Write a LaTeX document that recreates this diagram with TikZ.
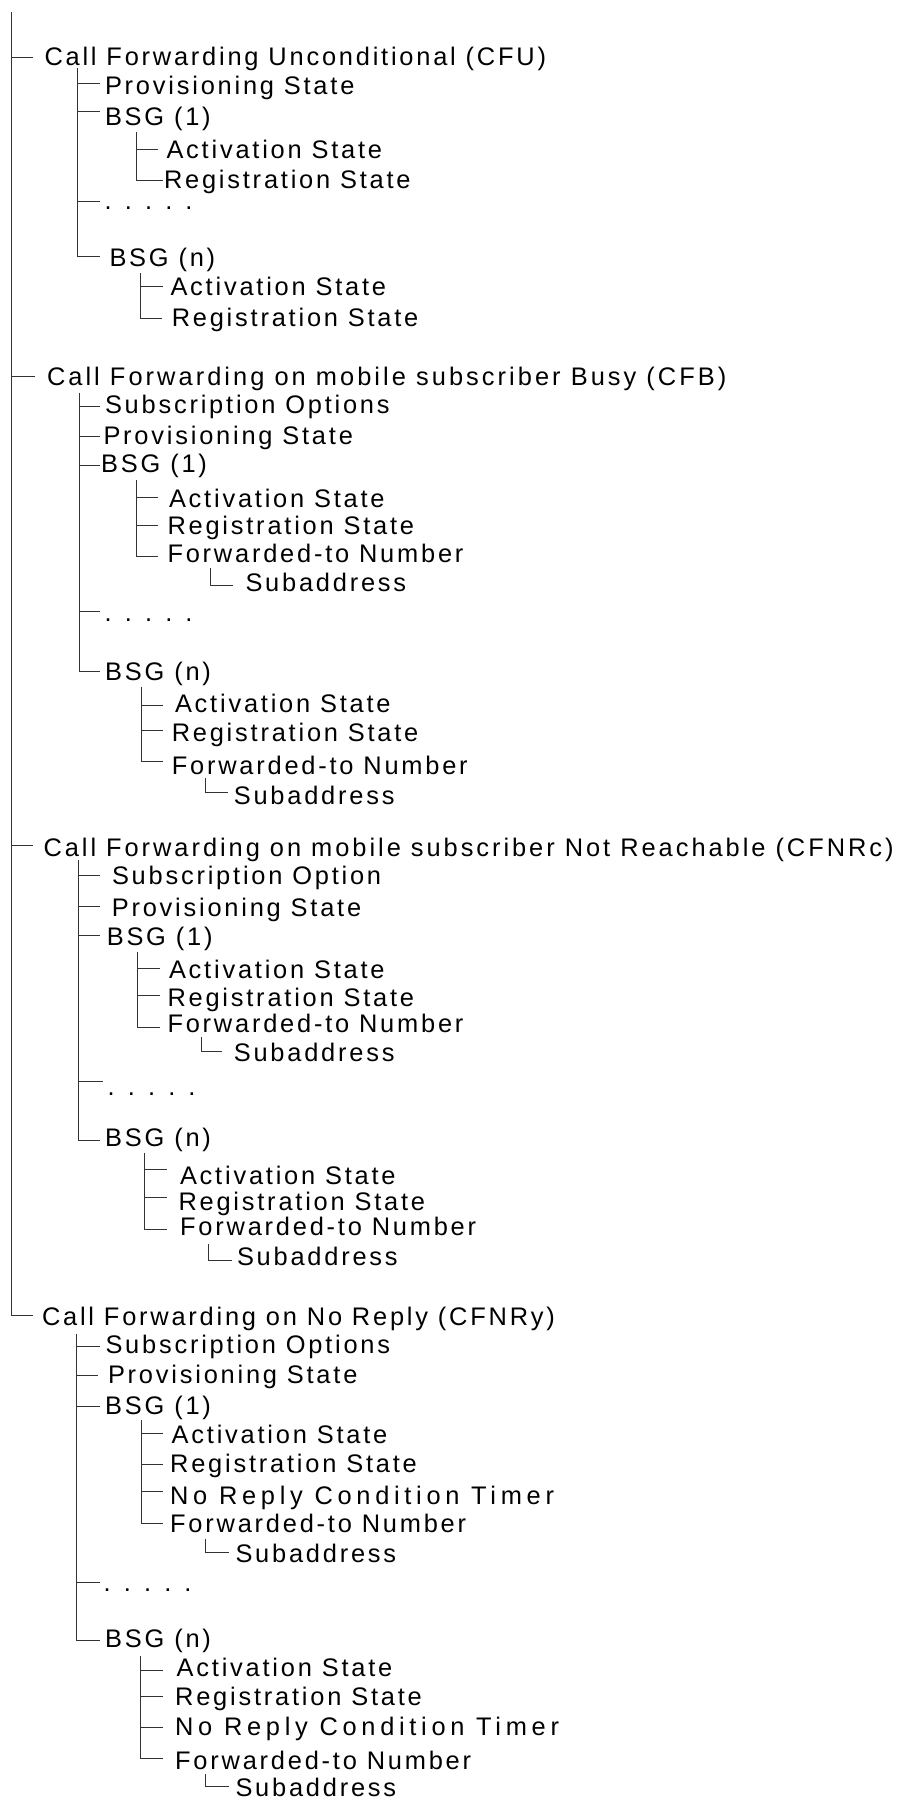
\documentclass[tikz,border=0pt]{standalone}
\usepackage{fontspec}
\setmainfont{Liberation Sans}[LetterSpace=11]
\newcommand\lblfont{\fontsize{12.7}{15}\selectfont}
\tikzset{
  lbl/.style={anchor=base west, inner sep=0pt, outer sep=0pt, font=\lblfont, text=black},
  lblwide/.style={lbl, font=\lblfont\addfontfeature{LetterSpace=12}},
  lblwidec/.style={lbl, font=\lblfont\addfontfeature{LetterSpace=11.7}},
  lblwider/.style={lbl, font=\lblfont\addfontfeature{LetterSpace=18.5}},
  conn/.style={draw=black!80, line width=0.5pt},
}
\begin{document}
\begin{tikzpicture}[x=0.5pt, y=-0.5pt]
\useasboundingbox (0,0) rectangle (896,1800);

% ---------- main spine ----------
\coordinate (m) at (11,11.7);
\coordinate (tCFU) at (33.3,57.3);
\coordinate (tCFB) at (35,376.7);
\coordinate (tCFNRc) at (33.3,845);
\coordinate (tCFNRy) at (33.3,1315);
\node[lbl] (nCFU) at (44.5,65) {Call Forwarding Unconditional (CFU)};
\node[lblwide] (nCFB) at (47,385) {Call Forwarding on mobile subscriber Busy (CFB)};
\node[lblwidec] (nCFNRc) at (43.5,856.7) {Call Forwarding on mobile subscriber Not Reachable (CFNRc)};
\node[lbl] (nCFNRy) at (42,1325) {Call Forwarding on No Reply (CFNRy)};
\draw[conn] (m) |- (tCFNRy);
\draw[conn] (m |- tCFU) -- (tCFU);
\draw[conn] (m |- tCFB) -- (tCFB);
\draw[conn] (m |- tCFNRc) -- (tCFNRc);

% ---------- CFU ----------
\coordinate (a) at (77.7,68);
\coordinate (tA1) at (100,83.3);
\coordinate (tA2) at (100,111.7);
\coordinate (tA3) at (100,201);
\coordinate (tA4) at (100,256.7);
\node[lbl] (nA1) at (105,94) {Provisioning State};
\node[lbl] (nA2) at (105,125) {BSG (1)};
\node[lbl] (nA3) at (104.7,209.5) {. . . . .};
\node[lbl] (nA4) at (109.5,266.7) {BSG (n)};
\draw[conn] (a) |- (tA4);
\draw[conn] (a |- tA1) -- (tA1);
\draw[conn] (a |- tA2) -- (tA2);
\draw[conn] (a |- tA3) -- (tA3);
% BSG(1)
\coordinate (a2v) at (136,131.7);
\coordinate (tA21) at (158,149);
\coordinate (tA22) at (163,180);
\node[lbl] (nA21) at (166.5,158.3) {Activation State};
\node[lbl] (nA22) at (164,188.3) {Registration State};
\draw[conn] (a2v) |- (tA22);
\draw[conn] (a2v |- tA21) -- (tA21);
% BSG(n)
\coordinate (a4v) at (140,273);
\coordinate (tA41) at (163,286.7);
\coordinate (tA42) at (161.7,318.3);
\node[lbl] (nA41) at (170.5,295) {Activation State};
\node[lbl] (nA42) at (171.8,326.7) {Registration State};
\draw[conn] (a4v) |- (tA42);
\draw[conn] (a4v |- tA41) -- (tA41);

% ---------- CFB ----------
\coordinate (b) at (79,392.7);
\coordinate (tB1) at (100,406);
\coordinate (tB2) at (100,436.7);
\coordinate (tB3) at (100,465);
\coordinate (tB4) at (100,611.7);
\coordinate (tB5) at (100,671.7);
\node[lbl] (nB1) at (105,413.3) {Subscription Options};
\node[lbl] (nB2) at (103.5,444.3) {Provisioning State};
\node[lbl] (nB3) at (101.2,472.7) {BSG (1)};
\node[lbl] (nB4) at (104.7,621.5) {. . . . .};
\node[lbl] (nB5) at (105.2,680) {BSG (n)};
\draw[conn] (b) |- (tB5);
\draw[conn] (b |- tB1) -- (tB1);
\draw[conn] (b |- tB2) -- (tB2);
\draw[conn] (b |- tB3) -- (tB3);
\draw[conn] (b |- tB4) -- (tB4);
% BSG(1)
\coordinate (b3v) at (136.7,480);
\coordinate (tB31) at (158.3,497.7);
\coordinate (tB32) at (158,525);
\coordinate (tB33) at (158.3,556.7);
\node[lbl] (nB31) at (169,507.3) {Activation State};
\node[lbl] (nB32) at (167.5,534.3) {Registration State};
\node[lbl] (nB33) at (167.5,562.7) {Forwarded-to Number};
\draw[conn] (b3v) |- (tB33);
\draw[conn] (b3v |- tB31) -- (tB31);
\draw[conn] (b3v |- tB32) -- (tB32);
\coordinate (b33v) at (210,568.3);
\coordinate (tB331) at (233.3,585);
\node[lbl] (nB331) at (245.5,591.7) {Subaddress};
\draw[conn] (b33v) |- (tB331);
% BSG(n)
\coordinate (b5v) at (141,686.7);
\coordinate (tB51) at (163.3,705);
\coordinate (tB52) at (163.3,730);
\coordinate (tB53) at (163.3,761.7);
\node[lbl] (nB51) at (175,712.7) {Activation State};
\node[lbl] (nB52) at (171.8,741) {Registration State};
\node[lbl] (nB53) at (171.8,774.3) {Forwarded-to Number};
\draw[conn] (b5v) |- (tB53);
\draw[conn] (b5v |- tB51) -- (tB51);
\draw[conn] (b5v |- tB52) -- (tB52);
\coordinate (b53v) at (205,778.3);
\coordinate (tB531) at (228.3,792.7);
\node[lbl] (nB531) at (233.8,804.3) {Subaddress};
\draw[conn] (b53v) |- (tB531);

% ---------- CFNRc ----------
\coordinate (c) at (78.3,860);
\coordinate (tC1) at (100,875);
\coordinate (tC2) at (100,906);
\coordinate (tC3) at (100,935);
\coordinate (tC4) at (102.7,1081);
\coordinate (tC5) at (100,1140.7);
\node[lbl] (nC1) at (112,884.3) {Subscription Option};
\node[lbl] (nC2) at (111.8,916) {Provisioning State};
\node[lbl] (nC3) at (106.8,945) {BSG (1)};
\node[lbl] (nC4) at (107.7,1095) {. . . . .};
\node[lbl] (nC5) at (105.2,1146.7) {BSG (n)};
\draw[conn] (c) |- (tC5);
\draw[conn] (c |- tC1) -- (tC1);
\draw[conn] (c |- tC2) -- (tC2);
\draw[conn] (c |- tC3) -- (tC3);
\draw[conn] (c |- tC4) -- (tC4);
% BSG(1)
\coordinate (c3v) at (137.7,951.7);
\coordinate (tC31) at (160,968.3);
\coordinate (tC32) at (160,995);
\coordinate (tC33) at (160,1027.3);
\node[lbl] (nC31) at (169,978.3) {Activation State};
\node[lbl] (nC32) at (167.5,1006) {Registration State};
\node[lbl] (nC33) at (167.5,1032.7) {Forwarded-to Number};
\draw[conn] (c3v) |- (tC33);
\draw[conn] (c3v |- tC31) -- (tC31);
\draw[conn] (c3v |- tC32) -- (tC32);
\coordinate (c33v) at (201.7,1036.7);
\coordinate (tC331) at (221.7,1051.7);
\node[lbl] (nC331) at (233.8,1061.7) {Subaddress};
\draw[conn] (c33v) |- (tC331);
% BSG(n)
\coordinate (c5v) at (144.5,1152.7);
\coordinate (tC51) at (166.7,1169.3);
\coordinate (tC52) at (166.7,1197.3);
\coordinate (tC53) at (166.7,1229);
\node[lbl] (nC51) at (180,1184) {Activation State};
\node[lbl] (nC52) at (178.5,1210.7) {Registration State};
\node[lbl] (nC53) at (180.2,1235.5) {Forwarded-to Number};
\draw[conn] (c5v) |- (tC53);
\draw[conn] (c5v |- tC51) -- (tC51);
\draw[conn] (c5v |- tC52) -- (tC52);
\coordinate (c53v) at (208.3,1243.5);
\coordinate (tC531) at (231.7,1260);
\node[lbl] (nC531) at (237,1265) {Subaddress};
\draw[conn] (c53v) |- (tC531);

% ---------- CFNRy ----------
\coordinate (d) at (76.7,1334);
\coordinate (tD1) at (100,1346.7);
\coordinate (tD2) at (98.3,1375);
\coordinate (tD3) at (100,1406.7);
\coordinate (tD4) at (100,1582.3);
\coordinate (tD5) at (100,1640);
\node[lbl] (nD1) at (105.5,1353.3) {Subscription Options};
\node[lbl] (nD2) at (108,1383.3) {Provisioning State};
\node[lbl] (nD3) at (105.2,1414.3) {BSG (1)};
\node[lbl] (nD4) at (103.7,1591) {. . . . .};
\node[lbl] (nD5) at (105.2,1647.7) {BSG (n)};
\draw[conn] (d) |- (tD5);
\draw[conn] (d |- tD1) -- (tD1);
\draw[conn] (d |- tD2) -- (tD2);
\draw[conn] (d |- tD3) -- (tD3);
\draw[conn] (d |- tD4) -- (tD4);
% BSG(1)
\coordinate (d3v) at (141,1420);
\coordinate (tD31) at (163.3,1433.3);
\coordinate (tD32) at (163.3,1464.3);
\coordinate (tD33) at (163.3,1491.7);
\coordinate (tD34) at (163.3,1523.3);
\node[lbl] (nD31) at (171.7,1443.3) {Activation State};
\node[lbl] (nD32) at (170.2,1472.7) {Registration State};
\node[lblwider] (nD33) at (170.2,1504.3) {No Reply Condition Timer};
\node[lbl] (nD34) at (170.2,1532.3) {Forwarded-to Number};
\draw[conn] (d3v) |- (tD34);
\draw[conn] (d3v |- tD31) -- (tD31);
\draw[conn] (d3v |- tD32) -- (tD32);
\draw[conn] (d3v |- tD33) -- (tD33);
\coordinate (d34v) at (205.7,1538.5);
\coordinate (tD341) at (229.3,1552.7);
\node[lbl] (nD341) at (235.5,1562.7) {Subaddress};
\draw[conn] (d34v) |- (tD341);
% BSG(n)
\coordinate (d5v) at (140,1656);
\coordinate (tD51) at (163.3,1670);
\coordinate (tD52) at (163.3,1696.7);
\coordinate (tD53) at (163.3,1727.3);
\coordinate (tD54) at (163.3,1758.3);
\node[lbl] (nD51) at (176.7,1676.7) {Activation State};
\node[lbl] (nD52) at (175.2,1705.7) {Registration State};
\node[lblwider] (nD53) at (175.2,1735.7) {No Reply Condition Timer};
\node[lbl] (nD54) at (175.2,1769.3) {Forwarded-to Number};
\draw[conn] (d5v) |- (tD54);
\draw[conn] (d5v |- tD51) -- (tD51);
\draw[conn] (d5v |- tD52) -- (tD52);
\draw[conn] (d5v |- tD53) -- (tD53);
\coordinate (d54v) at (205.7,1774.3);
\coordinate (tD541) at (229.3,1786.7);
\node[lbl] (nD541) at (235.5,1796.7) {Subaddress};
\draw[conn] (d54v) |- (tD541);
\end{tikzpicture}
\end{document}
